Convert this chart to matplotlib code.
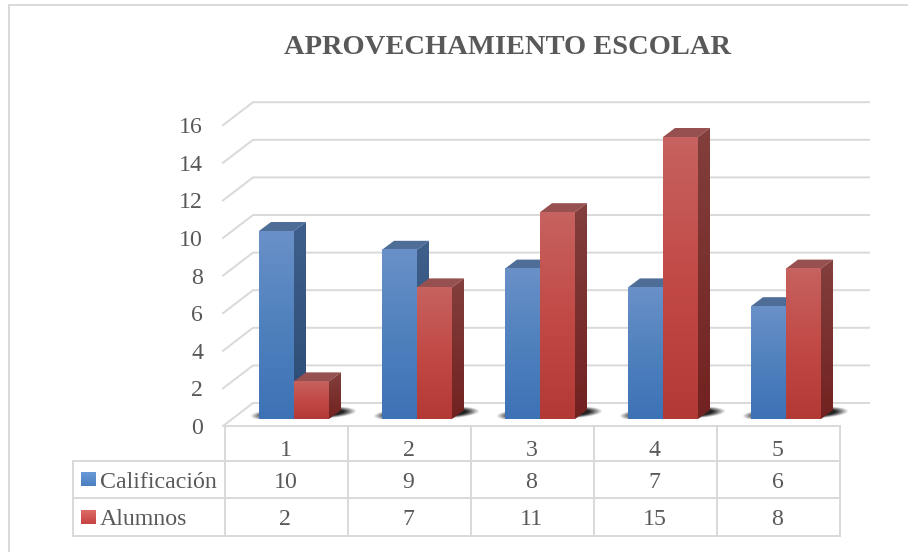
import numpy as np
import matplotlib
matplotlib.use("Agg")
import matplotlib.pyplot as plt
from matplotlib.patches import Polygon
from matplotlib.colors import LinearSegmentedColormap

categories = [1, 2, 3, 4, 5]
calificacion = [10, 9, 8, 7, 6]
alumnos = [2, 7, 11, 15, 8]
y_ticks = [0, 2, 4, 6, 8, 10, 12, 14, 16]
names = ["Calificación", "Alumnos"]
title = "APROVECHAMIENTO ESCOLAR"

plt.rcParams["font.family"] = ["Liberation Serif", "DejaVu Serif"]
TEXT = "#595959"
GRID = "#d9d9d9"

# pixels per unit on both axes, the chart is laid out in the value/category scale
PX_X = 123.0
PX_Y = 18.8
W, H = 908, 552
X0, Y0 = 294, 419   # group 1 centre, bar base

fig = plt.figure(figsize=(W / 100, H / 100), dpi=100)
ax = fig.add_axes([0, 0, 1, 1])
ax.set_xlim(1 - X0 / PX_X, 1 + (W - X0) / PX_X)
ax.set_ylim((Y0 - H) / PX_Y, Y0 / PX_Y)
ax.axis("off")

px = 1 / PX_X   # one pixel in x units
py = 1 / PX_Y   # one pixel in y units
bar_w = 35 * px
dx, dy = 12 * px, 9 * py
LW = 1.4
FS = 17.2


def gradient(x0, x1, y0, y1, stops, z):
    cmap = LinearSegmentedColormap.from_list("g", stops)
    ax.imshow(np.linspace(0, 1, 64).reshape(-1, 1), cmap=cmap, aspect="auto",
              extent=[x0, x1, y0, y1], origin="upper", zorder=z, interpolation="bilinear")


def shadow(c, z):
    # soft shadow on the floor, darker close to the bar
    u, v = np.meshgrid(np.linspace(-1, 1, 120), np.linspace(1, 0, 30))
    d = np.sqrt(np.abs(u) ** 3 + ((v - 0.42 - 0.2 * u) / 0.5) ** 2)
    rgba = np.zeros(d.shape + (4,))
    rgba[..., :3] = 0.13
    rgba[..., 3] = np.clip((1 - d) / 0.35, 0, 1)
    ax.imshow(rgba, aspect="auto", extent=[c - 44 * px, c + 63 * px, 0, 13 * py],
              origin="upper", zorder=z, interpolation="bilinear")


def bar3d(x, v, stops, top, side, z):
    ax.add_patch(Polygon([(x, v), (x + dx, v + dy), (x + bar_w + dx, v + dy), (x + bar_w, v)],
                         fc=top, ec="none", zorder=z))
    side_cmap = LinearSegmentedColormap.from_list("s", side)
    im = ax.imshow(np.linspace(0, 1, 64).reshape(-1, 1), cmap=side_cmap, aspect="auto",
                   extent=[x + bar_w, x + bar_w + dx, 0, v + dy], origin="upper", zorder=z)
    im.set_clip_path(Polygon([(x + bar_w, 0), (x + bar_w + dx, dy), (x + bar_w + dx, v + dy), (x + bar_w, v)],
                             transform=ax.transData))
    gradient(x, x + bar_w, 0, v, stops, z + 0.5)


# back wall grid and left wall
wall_x = 1 - 41 * px      # back left corner
front_x = wall_x - 30 * px
right_x = 1 + (869 - X0) * px
back_off = 16 * py
front_off = -7 * py
for t in y_ticks:
    ax.plot([front_x, wall_x, right_x], [t + front_off, t + back_off, t + back_off],
            color=GRID, lw=LW, zorder=1, solid_joinstyle="miter")
    ax.text(1 + (203 - X0) * px, t + front_off - 2.5 * py, str(t), ha="right", va="center",
            fontsize=FS, color=TEXT, zorder=5)

for i, c in enumerate(categories):
    x = c - 35 * px
    shadow(c, 2)
    bar3d(x, calificacion[i], ["#6a90c8", "#4f81bd", "#3d72b6"],
          "#4f6e97", ["#3f5f8c", "#2c4c74"], 3 + 2 * i)
    bar3d(x + bar_w, alumnos[i], ["#c6625f", "#c24a46", "#b33935"],
          "#96504f", ["#823f3c", "#722220"], 3.8 + 2 * i)

# data table
tab_left = 1 + (225 - X0) * px
col_w = 1.0
leg_left = 1 + (73 - X0) * px
r0 = front_off
r1 = -42 * py
r2 = -79 * py
r3 = -116.5 * py
for k in range(6):
    ax.plot([tab_left + k * col_w] * 2, [r0, r3], color=GRID, lw=LW, zorder=2)
ax.plot([tab_left, tab_left + 5 * col_w], [r0, r0], color=GRID, lw=LW, zorder=2)
for r in (r1, r2, r3):
    ax.plot([leg_left, tab_left + 5 * col_w], [r, r], color=GRID, lw=LW, zorder=2)
ax.plot([leg_left, leg_left], [r1, r3], color=GRID, lw=LW, zorder=2)

leg_cols = [["#6a9ad8", "#4a7fc0"], ["#dd6a66", "#c64340"]]
shift = -2.5 * py
for i, c in enumerate(categories):
    xc = tab_left + (i + 0.5) * col_w - 1 * px
    ax.text(xc, r1 + 12.5 * py + shift, str(c), ha="center", va="center", fontsize=FS, color=TEXT)
    ax.text(xc, (r1 + r2) / 2 + shift, str(calificacion[i]), ha="center", va="center", fontsize=FS, color=TEXT)
    ax.text(xc, (r2 + r3) / 2 + shift, str(alumnos[i]), ha="center", va="center", fontsize=FS, color=TEXT)
for row, (name, ytop, ybot) in enumerate(zip(names, (r1, r2), (r2, r3))):
    ym = (ytop + ybot) / 2
    gradient(leg_left + 8 * px, leg_left + 22 * px, ym - 7 * py, ym + 7 * py, leg_cols[row], 4)
    ax.text(leg_left + 27 * px, ym + shift, name, ha="left", va="center", fontsize=FS, color=TEXT)

ax.text(1 + (507 - X0) * px, (Y0 - 47) * py, title, ha="center", va="center",
        fontsize=20.5, fontweight="bold", color=TEXT)

# outer frame of the chart
frame_left = 1 + (9 - X0) * px
frame_right = 1 + (W - 1 - X0) * px
frame_top = (Y0 - 5) * py
ax.plot([frame_left, frame_left], [(Y0 - H) * py, frame_top], color=GRID, lw=LW, zorder=1)
ax.plot([frame_left, frame_right], [frame_top, frame_top], color=GRID, lw=LW, zorder=1)

fig.savefig("out.png", dpi=100)
